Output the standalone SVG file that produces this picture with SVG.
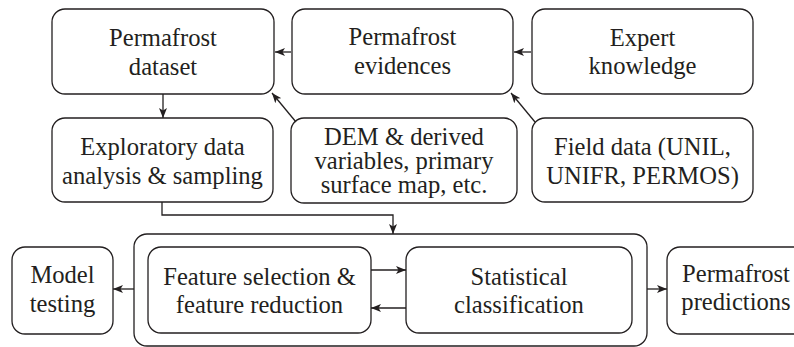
<svg xmlns="http://www.w3.org/2000/svg" width="794" height="347" viewBox="0 0 794 347">
  <style>
    .box { fill: #ffffff; stroke: #231f20; stroke-width: 1.3; }
    .label { font-family: "Liberation Serif", "Times New Roman", serif; font-size: 24.6px; fill: #231f20; text-anchor: middle; }
    .link { fill: none; stroke: #231f20; stroke-width: 1.3; }
  </style>
  <defs>
    <marker id="arrow" markerUnits="userSpaceOnUse" markerWidth="11" markerHeight="8" refX="10" refY="4" orient="auto">
      <path d="M0,0 L10,4 L0,8 L2.5,4 z" fill="#231f20"/>
    </marker>
  </defs>

  <rect width="794" height="347" fill="#ffffff"/>

  <!-- top row -->
  <g id="permafrost-dataset">
    <rect class="box" x="52" y="9" width="222" height="85" rx="13"/>
    <text class="label" x="163" y="46">Permafrost</text>
    <text class="label" x="163" y="75">dataset</text>
  </g>
  <g id="permafrost-evidences">
    <rect class="box" x="292" y="9" width="221" height="85" rx="13"/>
    <text class="label" x="402.5" y="45">Permafrost</text>
    <text class="label" x="402.5" y="74">evidences</text>
  </g>
  <g id="expert-knowledge">
    <rect class="box" x="532" y="9" width="221" height="85" rx="13"/>
    <text class="label" x="642.5" y="46">Expert</text>
    <text class="label" x="642.5" y="74">knowledge</text>
  </g>

  <!-- middle row -->
  <g id="exploratory-analysis">
    <rect class="box" x="52" y="118" width="221" height="84" rx="13"/>
    <text class="label" x="162.5" y="155">Exploratory data</text>
    <text class="label" x="162.5" y="184">analysis &amp; sampling</text>
  </g>
  <g id="dem-variables">
    <rect class="box" x="291" y="118" width="226" height="85" rx="13"/>
    <text class="label" x="404" y="145">DEM &amp; derived</text>
    <text class="label" x="404" y="169">variables, primary</text>
    <text class="label" x="404" y="193">surface map, etc.</text>
  </g>
  <g id="field-data">
    <rect class="box" x="532" y="118" width="221" height="84" rx="13"/>
    <text class="label" x="642.5" y="155">Field data (UNIL,</text>
    <text class="label" x="642.5" y="184">UNIFR, PERMOS)</text>
  </g>

  <!-- bottom row -->
  <g id="model-testing">
    <rect class="box" x="12" y="247" width="101" height="87" rx="13"/>
    <text class="label" x="62.5" y="283">Model</text>
    <text class="label" x="62.5" y="312">testing</text>
  </g>
  <g id="modelling-block">
    <rect class="box" x="134" y="234" width="513" height="112" rx="13"/>
  </g>
  <g id="feature-selection">
    <rect class="box" x="148" y="247" width="223" height="86" rx="13"/>
    <text class="label" x="259.5" y="285">Feature selection &amp;</text>
    <text class="label" x="259.5" y="313">feature reduction</text>
  </g>
  <g id="statistical-classification">
    <rect class="box" x="406" y="247" width="226" height="86" rx="13"/>
    <text class="label" x="519" y="285">Statistical</text>
    <text class="label" x="519" y="313">classification</text>
  </g>
  <g id="permafrost-predictions">
    <rect class="box" x="667" y="247" width="140" height="87" rx="13"/>
    <text class="label" x="736" y="282">Permafrost</text>
    <text class="label" x="736" y="310">predictions</text>
  </g>

  <!-- connectors -->
  <g id="connectors">
    <path class="link" d="M291,52 L275,52" marker-end="url(#arrow)"/>
    <path class="link" d="M531,52 L514,52" marker-end="url(#arrow)"/>
    <path class="link" d="M163,94 L163,118" marker-end="url(#arrow)"/>
    <path class="link" d="M296,122 L272,93" marker-end="url(#arrow)"/>
    <path class="link" d="M535,122 L511,93" marker-end="url(#arrow)"/>
    <path class="link" d="M162,202 L162,215 L393,215 L393,234" marker-end="url(#arrow)"/>
    <path class="link" d="M371,270 L406,270" marker-end="url(#arrow)"/>
    <path class="link" d="M406,308 L371,308" marker-end="url(#arrow)"/>
    <path class="link" d="M134,289 L113,289" marker-end="url(#arrow)"/>
    <path class="link" d="M647,289 L667,289" marker-end="url(#arrow)"/>
  </g>
</svg>
